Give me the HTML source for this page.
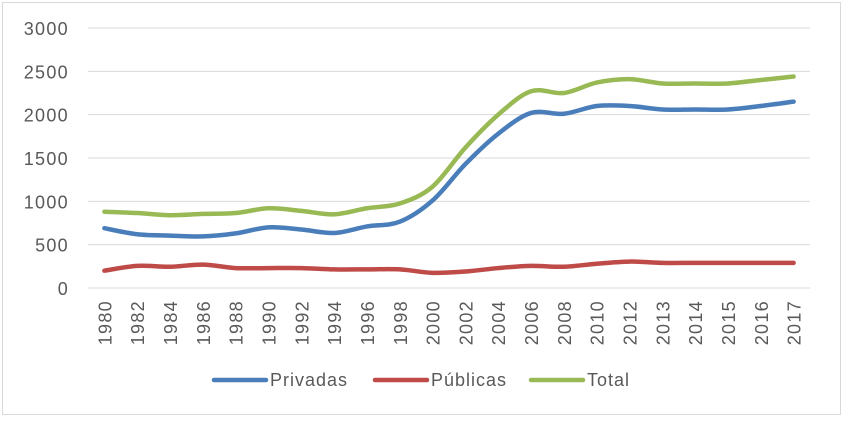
<!DOCTYPE html>
<html><head><meta charset="utf-8"><style>
body{margin:0;background:#fff;font-family:"Liberation Sans",sans-serif}
svg text{font-family:"Liberation Sans",sans-serif;fill:#595959}
</style></head><body>
<svg id="c" width="844" height="418">
<rect x="2.5" y="2.5" width="838" height="412" fill="#fff" stroke="#d9d9d9"/>
</svg>
<script>
const categories=["1980","1982","1984","1986","1988","1990","1992","1994","1996","1998","2000","2002","2004","2006","2008","2010","2012","2013","2014","2015","2016","2017"];
const privadas=[690,620,605,595,630,700,675,635,710,765,1010,1430,1780,2020,2010,2100,2100,2060,2060,2060,2100,2150];
const publicas=[200,255,245,270,230,230,230,215,215,215,175,190,230,255,245,280,305,290,290,290,290,290];
const total=[880,865,840,855,865,920,890,850,920,975,1170,1620,2000,2270,2250,2370,2410,2360,2360,2360,2400,2440];
const yTicks=[0,500,1000,1500,2000,2500,3000];
const NS="http://www.w3.org/2000/svg";
const svg=document.getElementById('c');
const L=88,R=810,T=28,B=288,MAX=3000;
const band=(R-L)/categories.length;
const x=i=>L+band*(i+0.5);
const y=v=>B-(v/MAX)*(B-T);
function mk(t,a){const e=document.createElementNS(NS,t);for(const k in a)e.setAttribute(k,a[k]);svg.appendChild(e);return e;}
yTicks.forEach(v=>{
  const g=mk('line',{x1:L,x2:R,y1:y(v),y2:y(v),stroke:'#d9d9d9','stroke-width':1});
  
  
  const t=mk('text',{x:69,y:y(v)+7,'text-anchor':'end','font-size':18,'letter-spacing':1.3});
  t.textContent=v;
  
  
});
categories.forEach((c,i)=>{
  const t=mk('text',{x:0,y:0,'text-anchor':'end','font-size':18,'letter-spacing':1.3,transform:`translate(${x(i)+7},${B+12}) rotate(-90)`});
  t.textContent=c;
  
  
});
function smooth(vals){
  const p=vals.map((v,i)=>[x(i),y(v)]);
  let d=`M${p[0][0]},${p[0][1]}`;
  for(let i=0;i<p.length-1;i++){
    const p0=p[i-1]||p[i],p1=p[i],p2=p[i+1],p3=p[i+2]||p2;
    const c1=[p1[0]+(p2[0]-p0[0])/6,p1[1]+(p2[1]-p0[1])/6];
    const c2=[p2[0]-(p3[0]-p1[0])/6,p2[1]-(p3[1]-p1[1])/6];
    d+=`C${c1[0]},${c1[1]} ${c2[0]},${c2[1]} ${p2[0]},${p2[1]}`;
  }
  return d;
}
const series=[["privadas",privadas,"#4a7ebb"],["publicas",publicas,"#be4b48"],["total",total,"#98b954"]];
series.forEach(([n,v,col])=>{
  const p=mk('path',{d:smooth(v),fill:'none',stroke:col,'stroke-width':4.5,'stroke-linecap':'round','stroke-linejoin':'round'});
  
  
});
const legend=[["Privadas","#4a7ebb",214],["Públicas","#be4b48",375],["Total","#98b954",531]];
legend.forEach(([n,col,lx])=>{
  const l=mk('line',{x1:lx,x2:lx+52,y1:380,y2:380,stroke:col,'stroke-width':4.5,'stroke-linecap':'round'});
  
  
  const t=mk('text',{x:lx+56,y:386,'font-size':18,'letter-spacing':1});
  t.textContent=n;
  
  
});
</script>
</body></html>
